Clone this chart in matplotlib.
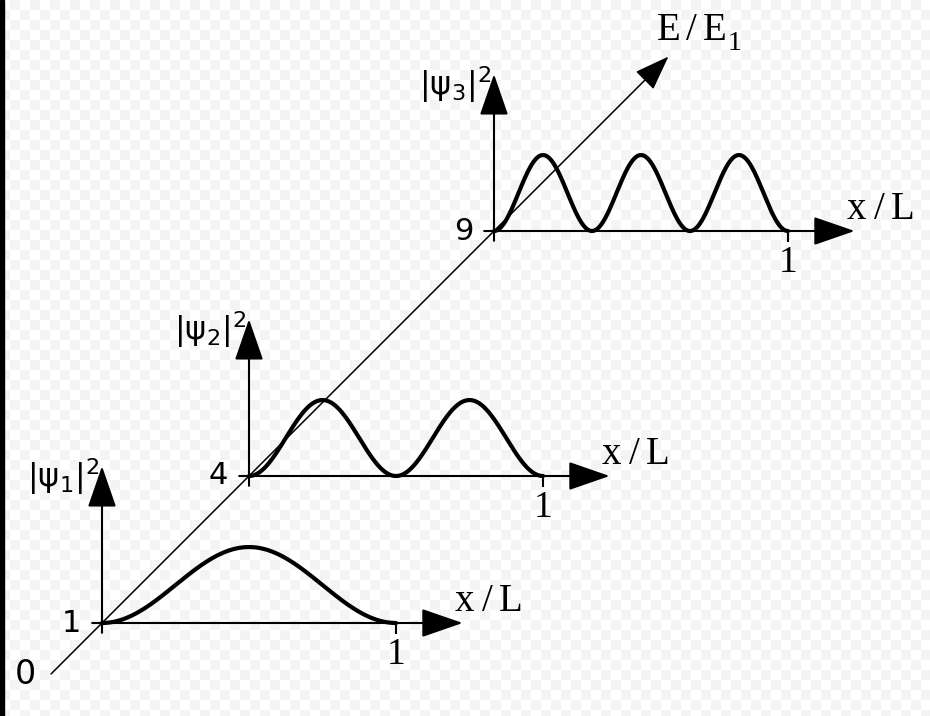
import numpy as np
import matplotlib
matplotlib.use('Agg')
import matplotlib.pyplot as plt
from matplotlib.patches import Rectangle

# ---- chart content ----
quantum_numbers = [1, 2, 3]
energy_levels = [1, 4, 9]
energy_tick_labels = ['1', '4', '9']
density_labels = [r'$|\psi_1|^2$', r'$|\psi_2|^2$', r'$|\psi_3|^2$']
x_axis_label = 'x/L'
x_tick_label = '1'
energy_axis_label = 'E/E'
energy_axis_sub = '1'
origin_label = '0'
energy_axis_max = 12.56

plt.rcParams['mathtext.default'] = 'regular'

PX = 49.0                      # pixels per energy unit
fig = plt.figure(figsize=(9.3, 7.16), dpi=100)
ax = fig.add_axes([0, 0, 1, 1])
XL = (-53 / PX, (930 - 53) / PX)
YL = ((672 - 716) / PX, 672 / PX)
ax.axis('off')

# faint checkerboard background
tile = 10
ny, nx = 716 // tile + 1, 930 // tile + 1
cb = (np.indices((ny, nx)).sum(axis=0) % 2).astype(float)
ax.imshow(cb, cmap=matplotlib.colors.ListedColormap(['#ffffff', '#f4f4f4']),
          extent=(XL[0], XL[0] + nx * tile / PX, YL[1] - ny * tile / PX, YL[1]),
          interpolation='nearest', zorder=0, aspect='auto')
ax.set_xlim(*XL)
ax.set_ylim(*YL)
fig.patches.append(Rectangle((0, 0), 4 / 930, 1, transform=fig.transFigure,
                             color='black', zorder=10))

width = 6.0       # x/L = 1 in energy units
amp = 1.55
x_arrow = 7.36
y_arrow = 3.2
over = 0.2
SERIF = 'Liberation Serif'


def pt2u(pt):
    return pt * 100 / 72 / PX


def mono(text, x0, y0, size, va='baseline'):
    """Draw text with fixed (typewriter-like) advance."""
    adv = 0.6 * pt2u(size)
    for i, ch in enumerate(text):
        ax.text(x0 + (i + 0.5) * adv, y0, ch, fontsize=size, family=SERIF,
                ha='center', va=va)
    return x0 + len(text) * adv


def arrow(p0, p1, lw=1.5, hl=1.3, hw=0.45):
    ax.annotate('', xy=p1, xytext=p0,
                arrowprops=dict(arrowstyle=f'-|>,head_length={hl},head_width={hw}',
                                mutation_scale=20, lw=lw, color='black',
                                shrinkA=0, shrinkB=0), zorder=3)


# oblique energy axis
arrow((-0.04, -0.04), (energy_axis_max, energy_axis_max), lw=1.1, hl=1.1, hw=0.4)
xe = mono(energy_axis_label, 12.32, 12.9, 28)
mono(energy_axis_sub, xe + 0.0, 12.7, 20)
ax.text(-0.57, -0.06, origin_label, fontsize=24, ha='center', va='center',
        family='DejaVu Sans')

x = np.linspace(0, 1, 500)
for n, E, etl, dl in zip(quantum_numbers, energy_levels, energy_tick_labels, density_labels):
    ox, oy = E, E
    ax.plot(ox + width * x, oy + amp * np.sin(n * np.pi * x) ** 2,
            color='black', lw=3, zorder=4, solid_capstyle='round')
    arrow((ox - over, oy), (ox + x_arrow, oy))
    arrow((ox, oy - over), (ox, oy + y_arrow))
    ax.plot([ox + width, ox + width], [oy, oy - over], color='black', lw=1.5)
    ax.text(ox + width, oy - 0.3, x_tick_label, fontsize=27, family=SERIF,
            ha='center', va='top')
    mono(x_axis_label, ox + 7.15, oy + 0.25, 28)
    ax.text(ox - 0.42, oy, etl, fontsize=22, family='DejaVu Sans', ha='right', va='center')
    ax.text(ox - 0.05, oy + 2.98, dl, fontsize=23, math_fontfamily='dejavusans',
            ha='right', va='center')

fig.savefig('out.png', dpi=100)
